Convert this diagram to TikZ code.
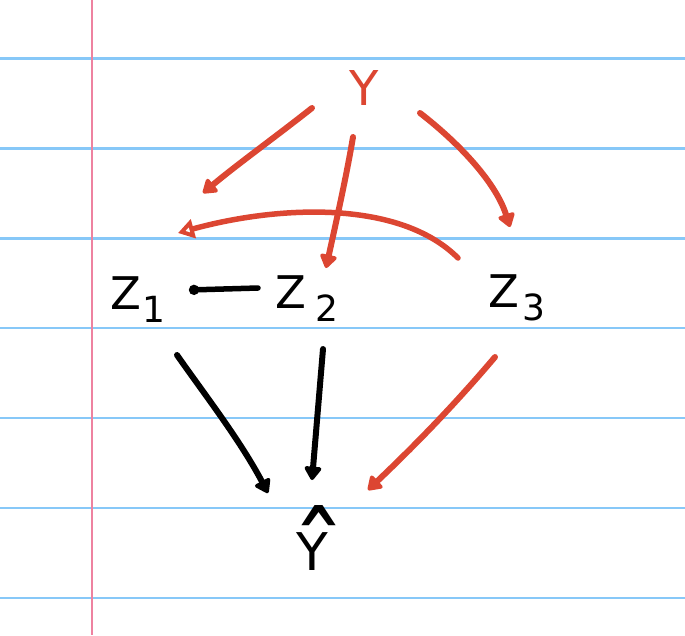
\documentclass[tikz,border=0pt]{standalone}
\usepackage{fontspec}
\setmainfont{DejaVu Sans}
\usetikzlibrary{arrows.meta,calc}
\definecolor{penred}{RGB}{220,70,50}
\definecolor{ruleblue}{RGB}{135,200,248}
\definecolor{marginpink}{RGB}{238,130,160}
\tikzset{
  lbl/.style={inner sep=0pt,anchor=base west,font=\fontsize{45}{48}\selectfont},
  redlbl/.style={inner sep=0pt,anchor=base,text=penred,font=\fontsize{48}{50}\selectfont},
  redarrow/.style={draw=penred,line width=6pt,line cap=round,line join=round,
    -{Triangle[length=15pt,width=19pt,round]}},
  blackarrow/.style={draw=black,line width=6pt,line cap=round,line join=round,
    -{Triangle[length=15pt,width=19pt,round]}},
  ruleline/.style={draw=ruleblue,line width=2.6pt},
  marginline/.style={draw=marginpink,line width=2.4pt}
}
\newcommand{\subdigit}[1]{\raisebox{-13pt}{\fontsize{36}{36}\selectfont #1}}
\begin{document}
\begin{tikzpicture}[x=1pt,y=-1pt]
\useasboundingbox (0,0) rectangle (685,635);
\fill[white] (0,0) rectangle (685,635);
% ruled paper
\foreach \yy in {58.5,148.5,238.5,328,418,508,598}
  \draw[ruleline] (0,\yy) -- (685,\yy);
\draw[marginline] (92,0) -- (92,635);
% labels
\node[redlbl] (Y) at (364,105) {Y};
\node[lbl] (Z1) at (110,309) {Z\kern1pt\subdigit{1}};
\node[lbl] (Z2) at (275,308) {Z\kern9pt\subdigit{2}};
\node[lbl] (Z3) at (488,307) {Z\kern3pt\subdigit{3}};
\node[inner sep=0pt,anchor=base,font=\fontsize{52}{54}\selectfont] (Yh) at (312,570)
  {\makebox[0pt][l]{\kern-5pt\raisebox{-23pt}{\fontsize{110}{110}\selectfont ˆ}}Y};
% red arrows from Y
\draw[redarrow] ($(Y.base)+(-52,3)$) .. controls ($(Y.base)+(-90,33)$) and ($(Y.base)+(-125,58)$) .. ($(Z1.base west)+(93,-116)$);
\draw[redarrow] ($(Y.base)+(-11,32)$) .. controls ($(Y.base)+(-17,68)$) and ($(Y.base)+(-27,113)$) .. ($(Z2.base west)+(51,-40)$);
\draw[redarrow] ($(Y.base)+(56,8)$) .. controls ($(Y.base)+(91,35)$) and ($(Y.base)+(131,75)$) .. ($(Z3.base west)+(22,-80)$);
% Z3 -> Z1 (open head)
\draw[draw=penred,line width=5.5pt,line cap=round,line join=round,
  -{Triangle[open,length=16pt,width=19pt,line width=4.5pt]}]
  ($(Z3.base west)+(-30,-49)$) .. controls ($(Z3.base west)+(-88,-107)$) and ($(Z3.base west)+(-208,-102)$) .. ($(Z1.base west)+(68,-76)$);
% Z2 -> Z1 (dot head)
\draw[draw=black,line width=5.5pt,line cap=round,-{Circle[length=10pt]}]
  ($(Z2.base west)+(-17,-20)$) -- ($(Z1.base west)+(79,-19)$);
% into Y hat
\draw[blackarrow] ($(Z1.base west)+(67,46)$) .. controls ($(Z1.base west)+(95,86)$) and ($(Z1.base west)+(130,131)$) .. ($(Yh.base)+(-44,-77)$);
\draw[blackarrow] ($(Z2.base west)+(48,41)$) -- ($(Yh.base)+(0,-90)$);
\draw[redarrow] ($(Z3.base west)+(7,50)$) .. controls ($(Z3.base west)+(-38,103)$) and ($(Z3.base west)+(-78,143)$) .. ($(Yh.base)+(56,-80)$);
\end{tikzpicture}
\end{document}
